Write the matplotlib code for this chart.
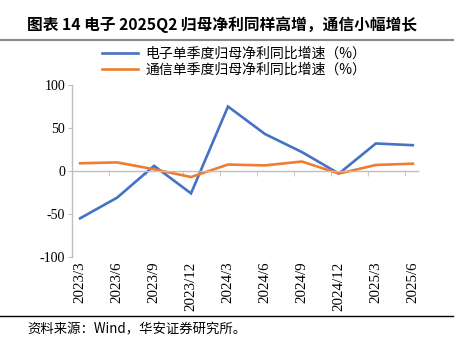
import matplotlib
matplotlib.use("Agg")
import matplotlib.pyplot as plt
from matplotlib.lines import Line2D

plt.rcParams['font.family'] = ['Noto Sans CJK SC', 'DejaVu Sans']

categories = ["2023/3", "2023/6", "2023/9", "2023/12", "2024/3", "2024/6",
              "2024/9", "2024/12", "2025/3", "2025/6"]
electronics = [-55, -31, 6, -26, 75, 43, 22, -3, 32, 30]
telecom = [9, 10, 2, -7, 7.5, 6.5, 11, -3, 7, 8.5]
series_names = ["电子单季度归母净利同比增速（%）", "通信单季度归母净利同比增速（%）"]
yticks = [-100, -50, 0, 50, 100]
title = "图表 14 电子 2025Q2 归母净利同样高增，通信小幅增长"
footer = "资料来源：Wind，华安证券研究所。"

W, H = 461, 345
fig = plt.figure(figsize=(W / 100, H / 100), dpi=100)

ax = fig.add_axes([72 / W, 1 - 257 / H, (418 - 72) / W, (257 - 85) / H])
x = list(range(len(categories)))
ax.plot(x, electronics, color="#4472C4", lw=1.9, solid_joinstyle="miter")
ax.plot(x, telecom, color="#ED7D31", lw=1.9, solid_joinstyle="miter")

ax.set_ylim(-100, 100)
ax.set_xlim(-0.22, len(categories) - 1 + 0.14)
ax.set_yticks(yticks)
ax.set_yticklabels([str(v) for v in yticks], family="Liberation Serif", fontsize=10)
ax.tick_params(axis="y", direction="out", length=3, color="#BFBFBF", pad=2)

ax.spines["top"].set_visible(False)
ax.spines["right"].set_visible(False)
ax.spines["left"].set_color("#BFBFBF")
ax.spines["bottom"].set_color("#BFBFBF")
ax.spines["bottom"].set_position(("data", 0))
ax.spines["left"].set_linewidth(1.0)
ax.spines["bottom"].set_linewidth(1.0)

ax.set_xticks(x)
ax.set_xticklabels(categories, rotation=90, family="Liberation Serif", fontsize=10.8)
ax.tick_params(axis="x", which="major", length=0, pad=65)
ax.set_xticks([i - 0.22 for i in x], minor=True)
ax.tick_params(axis="x", which="minor", direction="out", length=3.5, color="#BFBFBF")

# legend
handles = [Line2D([], [], color="#4472C4", lw=1.9), Line2D([], [], color="#ED7D31", lw=1.9)]
fig.legend(handles, series_names, loc="center", bbox_to_anchor=(234 / W, 1 - 62 / H),
           frameon=False, fontsize=10, handlelength=2.6, handletextpad=0.5,
           labelspacing=0.15, borderpad=0)

# title and frame lines
fig.text(27 / W, 1 - 25 / H, title, fontsize=11.3, fontweight="bold", va="center", ha="left")
fig.add_artist(Line2D([0, 453 / W], [1 - 40 / H, 1 - 40 / H], color="#888888", lw=1.5))
fig.add_artist(Line2D([0, 453 / W], [1 - 316 / H, 1 - 316 / H], color="black", lw=1.0))
fig.text(27 / W, 1 - 329 / H, footer, fontsize=9.6, va="center", ha="left")

fig.savefig("out.png", dpi=100)
